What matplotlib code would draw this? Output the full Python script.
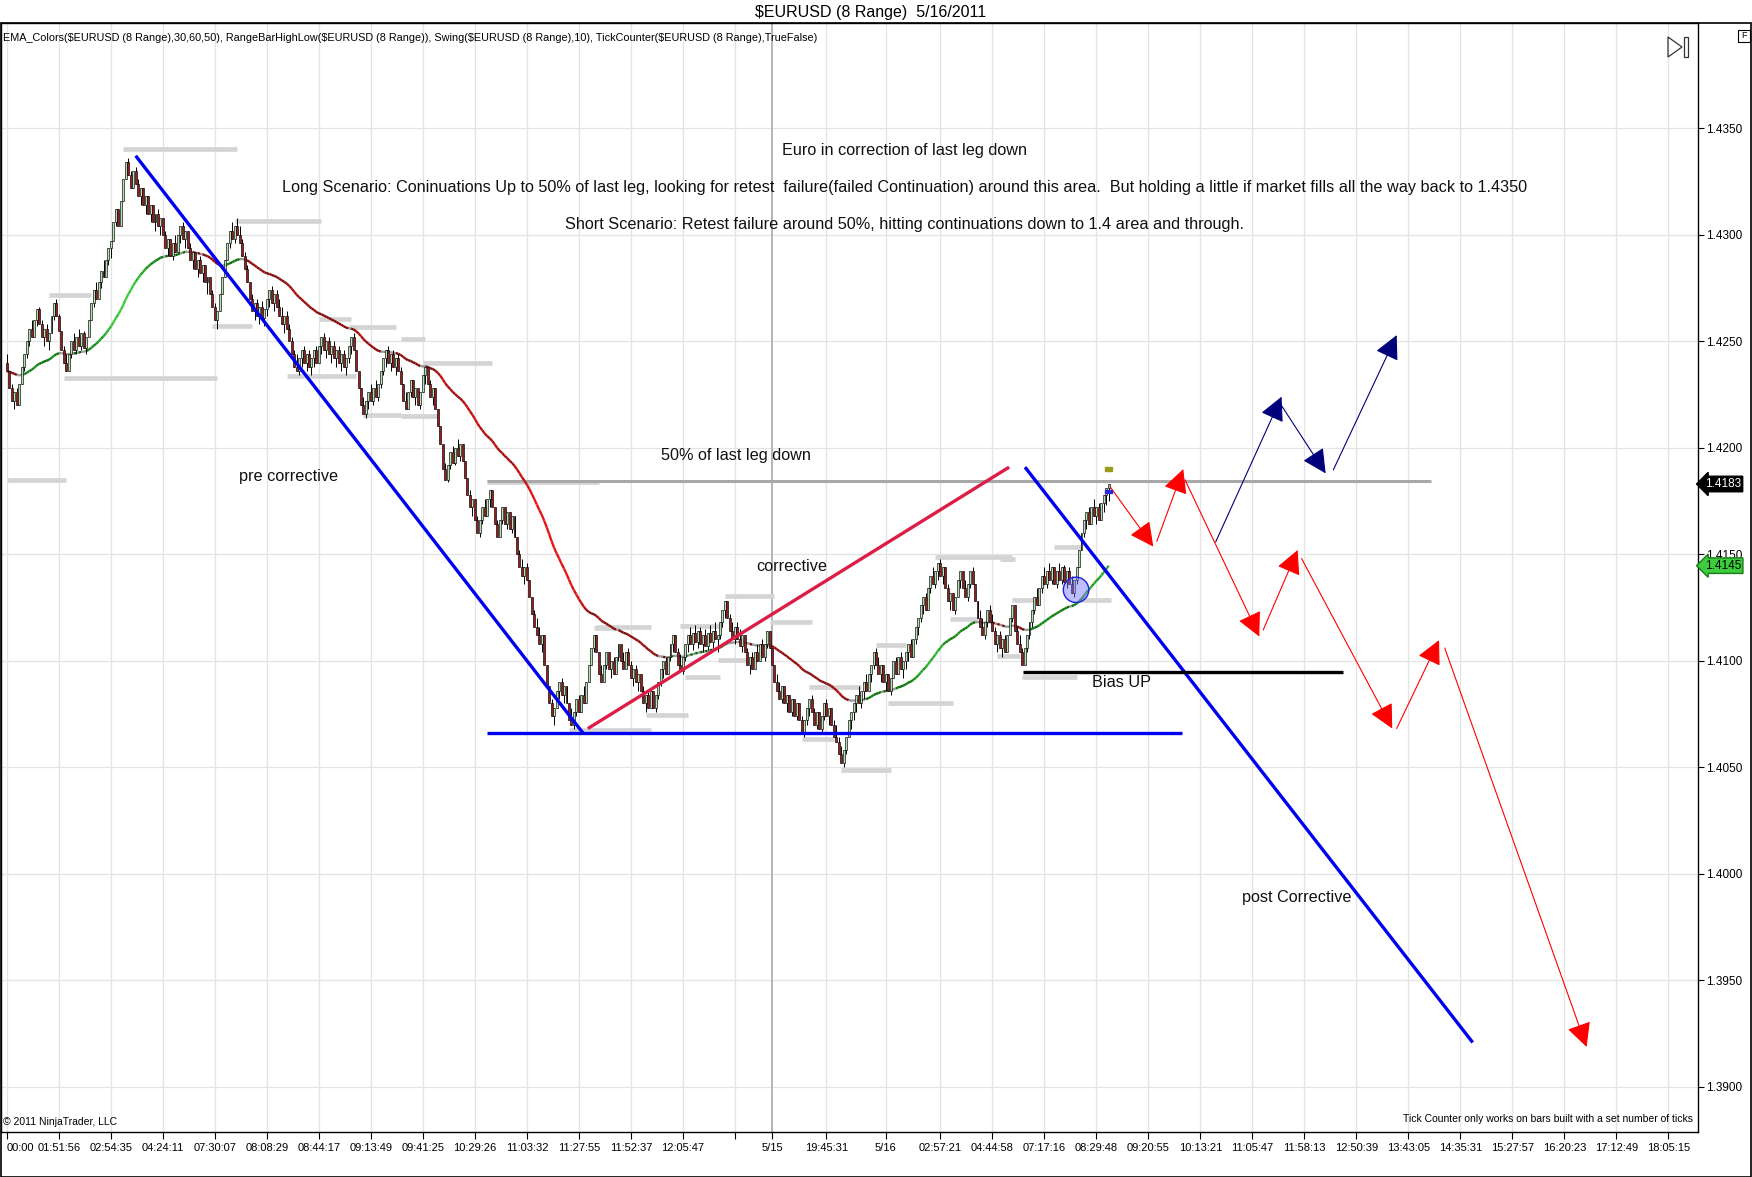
import matplotlib
matplotlib.use('Agg')
import matplotlib.pyplot as plt
import matplotlib.patches as patches
import matplotlib.transforms as mtransforms
from matplotlib.collections import LineCollection
import numpy as np
import pandas as pd

plt.rcParams['font.family'] = ['Liberation Sans', 'DejaVu Sans']

# ---- data (prices stored as pips above 1.4000) ----
BASE = 1.4
PIP = 0.0001
BAR_RANGE = 8  # "8 Range" bars

first_open = 240
close_pips = [
    236, 228, 222, 226, 220, 230, 238, 244, 250, 256, 252, 260, 265, 258, 252, 256, 250, 254, 262, 268, 262,
    255, 246, 240, 236, 244, 250, 246, 252, 248, 254, 247, 252, 260, 268, 274, 270, 278, 283, 280, 288, 294,
    297, 306, 312, 304, 316, 326, 334, 328, 322, 330, 324, 318, 322, 314, 318, 310, 314, 306, 310, 304, 308,
    300, 294, 298, 290, 296, 292, 300, 304, 298, 302, 294, 288, 292, 284, 288, 282, 286, 278, 280, 272, 266,
    260, 264, 272, 280, 288, 296, 302, 298, 304, 300, 296, 290, 284, 278, 270, 264, 268, 262, 266, 261, 265,
    270, 274, 268, 272, 266, 262, 258, 262, 256, 250, 244, 238, 236, 242, 246, 240, 244, 238, 242, 246, 240,
    248, 252, 246, 250, 244, 248, 242, 246, 240, 244, 238, 242, 248, 252, 246, 236, 228, 220, 216, 222, 226,
    222, 228, 224, 230, 236, 242, 246, 240, 244, 238, 242, 236, 230, 222, 218, 226, 232, 224, 228, 220, 226,
    234, 238, 230, 224, 228, 218, 210, 202, 190, 185, 192, 198, 193, 200, 196, 202, 194, 186, 178, 172, 176,
    166, 160, 166, 172, 168, 176, 180, 172, 164, 158, 166, 172, 164, 170, 162, 168, 158, 150, 144, 140, 144,
    138, 130, 122, 116, 112, 108, 112, 98, 88, 80, 74, 78, 86, 90, 84, 88, 80, 72, 70, 76, 82,
    76, 84, 80, 90, 98, 106, 112, 104, 94, 90, 98, 104, 96, 100, 94, 102, 108, 100, 96, 104, 98,
    92, 96, 90, 94, 86, 80, 84, 78, 86, 78, 84, 90, 96, 100, 94, 102, 108, 112, 104, 98, 95,
    102, 108, 112, 108, 113, 109, 114, 108, 112, 107, 113, 109, 114, 110, 112, 118, 124, 128, 120, 114, 110,
    116, 110, 107, 112, 104, 98, 102, 96, 104, 100, 108, 102, 108, 114, 106, 98, 90, 86, 82, 88, 80,
    84, 76, 82, 74, 80, 72, 66, 72, 78, 82, 76, 70, 76, 68, 74, 80, 74, 78, 70, 64, 62,
    56, 52, 58, 64, 72, 76, 80, 84, 80, 86, 90, 86, 94, 98, 104, 98, 94, 98, 90, 94, 86,
    92, 100, 94, 102, 96, 100, 104, 108, 102, 110, 116, 120, 126, 130, 124, 134, 140, 136, 142, 146, 140,
    144, 134, 128, 132, 124, 130, 138, 142, 134, 130, 136, 142, 136, 128, 120, 116, 112, 118, 124, 118, 114,
    108, 112, 106, 110, 104, 112, 120, 126, 114, 108, 104, 98, 106, 112, 118, 124, 130, 126, 134, 140, 136,
    142, 138, 144, 136, 142, 138, 144, 137, 142, 136, 132, 138, 144, 152, 160, 166, 170, 164, 172, 168, 172,
    166, 174, 178, 181, 183,
]

# swing high/low levels: (first bar, last bar, pips)
swing_levels = [
    (0, 24, 184.7), (47, 93, 340.2), (17, 34, 271.8), (23, 85, 233.0), (92, 127, 306.7),
    (83, 99, 257.0), (126, 139, 260.7), (138, 157, 256.5), (113, 141, 233.8), (144, 159, 215.5),
    (159, 169, 250.9), (168, 196, 240.0), (159, 174, 214.9), (194, 239, 184.0), (237, 248, 115.2),
    (238, 260, 115.7), (227, 260, 67.5), (272, 289, 116.3), (274, 288, 92.5), (258, 275, 74.5),
    (290, 310, 130.4), (287, 299, 100.6), (308, 325, 118.4), (324, 345, 87.5), (321, 334, 63.1),
    (337, 357, 48.7), (351, 363, 107.4), (356, 382, 80.3), (375, 406, 148.6), (381, 392, 119.8),
    (400, 409, 102.2), (406, 417, 128.6), (401, 407, 148.0), (410, 432, 92.6), (423, 434, 153.6),
    (433, 446, 128.6),
]

# x axis ticks (bar numbers) and their labels
tick_bars = [0, 21, 42, 63, 84, 105, 126, 147, 168, 189, 210, 231, 252, 273, 294, 309, 331, 355,
             377, 398, 419, 440, 461, 482, 503, 524, 545, 566, 587, 608, 629, 650, 671]
tick_labels = ["00:00", "01:51:56", "02:54:35", "04:24:11", "07:30:07", "08:08:29", "08:44:17",
               "09:13:49", "09:41:25", "10:29:26", "11:03:32", "11:27:55", "11:52:37", "12:05:47", "",
               "5/15", "19:45:31", "5/16", "02:57:21", "04:44:58", "07:17:16", "08:29:48", "09:20:55",
               "10:13:21", "11:05:47", "11:58:13", "12:50:39", "13:43:05", "14:35:31", "15:27:57",
               "16:20:23", "17:12:49", "18:05:15"]
session_bar = 309
price_ticks = [1.3900, 1.3950, 1.4000, 1.4050, 1.4100, 1.4150, 1.4200, 1.4250, 1.4300, 1.4350]

# drawn annotations (bar, pips)
blue_lines = [(52.0, 337.1, 232.7, 66.0), (411.2, 190.9, 592.0, -79.2), (194.0, 66.0, 474.6, 66.0)]
crimson_line = (235.2, 68.6, 404.2, 190.5)
half_level = (194.0, 575.0, 184.3)
bias_level = (410.3, 539.7, 94.9)
red_arrows = [(445.5, 181.8, 463.0, 153.6), (464.4, 156.0, 475.1, 190.0), (475.8, 185.0, 505.8, 111.4),
              (507.4, 114.5, 521.3, 152.0), (522.9, 148.0, 559.5, 68.2), (561.3, 68.2, 578.4, 109.7),
              (580.7, 106.0, 638.0, -81.3)]
navy_arrows = [(488.2, 155.8, 514.8, 224.0), (513.9, 221.4, 532.6, 188.0), (535.7, 189.6, 561.3, 252.9)]
circle_mark = (431.8, 133.3)
notes = [
    ("Euro in correction of last leg down", 362.7, 339.5),
    ("Long Scenario: Coninuations Up to 50% of last leg, looking for retest  failure(failed Continuation) "
     "around this area.  But holding a little if market fills all the way back to 1.4350", 362.7, 322.1),
    ("Short Scenario: Retest failure around 50%, hitting continuations down to 1.4 area and through.", 362.7, 304.8),
    ("50% of last leg down", 294.6, 196.2),
    ("pre corrective", 113.6, 186.3),
    ("corrective", 317.1, 144.3),
    ("Bias UP", 450.3, 89.7),
    ("post Corrective", 521.1, -11.0),
]


def px(p):
    return BASE + np.asarray(p, dtype=float) * PIP


closes = px(close_pips)
n = len(closes)
x = np.arange(n)
opens = np.r_[px(first_open), closes[:-1]]
up = closes > opens
rng = BAR_RANGE * PIP
highs = np.where(up, np.maximum(closes, opens), np.maximum(opens, closes + rng))
lows = np.where(up, np.minimum(opens, closes - rng), np.minimum(opens, closes))

ema = pd.Series(closes).ewm(span=50, adjust=False).mean().values

# ---- figure ----
W, H = 1752, 1177
fig = plt.figure(figsize=(W / 100, H / 100), dpi=100)
ax_top, ax_bot, ax_right = 23.3, 1131.7, 1698
ax = fig.add_axes([1 / W, 1 - ax_bot / H, (ax_right - 1) / W, (ax_bot - ax_top) / H])

ax.set_xlim(-2.4, 683)
ax.set_ylim(1.38789, 1.43993)

# grid
for t in price_ticks:
    ax.axhline(t, color='#e4e4e4', lw=0.9, zorder=0)
for b in tick_bars:
    if b == session_bar:
        ax.axvline(b, color='#b0b0b0', lw=1.3, zorder=0)
    else:
        ax.axvline(b, color='#e4e4e4', lw=0.9, zorder=0)

# swing levels
for s, e, p in swing_levels:
    ax.hlines(px(p), s, e, color='#d4d4d4', lw=3.4, zorder=1)

# 50% level
ax.hlines(px(half_level[2]), half_level[0], half_level[1], color='#a8a8a8', lw=2.2, zorder=2)

# EMA with slope colouring
ema_p = ema / PIP
slope = np.diff(ema_p)
cols = []
for s in slope:
    if s > 0.3:
        k = min(1.0, (s - 0.3) / 1.7)
        cols.append((0.0 + 0.25 * k, 0.40 + 0.40 * k, 0.0 + 0.25 * k))
    elif s < -0.3:
        k = min(1.0, (-s - 0.3) / 2.2)
        cols.append((0.45 + 0.47 * k, 0.04 + 0.04 * k, 0.04 + 0.04 * k))
    else:
        cols.append((0.58, 0.58, 0.58))
segs = np.stack([np.c_[x[:-1], ema[:-1]], np.c_[x[1:], ema[1:]]], axis=1)
ax.add_collection(LineCollection(segs, colors=cols, linewidths=1.7, zorder=3))

# candles
ax.vlines(x, lows, highs, color='black', lw=0.7, zorder=4)
body_bottom = np.minimum(opens, closes)
body_h = np.maximum(np.abs(closes - opens), 0.6 * PIP)
ax.bar(x, body_h, bottom=body_bottom, width=0.8,
       color=np.where(up, '#b9dfb9', '#9c1c1c'), edgecolor='black', linewidth=0.45, zorder=5)

# drawn lines
for x0, y0, x1, y1 in blue_lines:
    ax.plot([x0, x1], [px(y0), px(y1)], color='#0000f0', lw=2.4, zorder=6, solid_capstyle='butt')
cx0, cy0, cx1, cy1 = crimson_line
ax.plot([cx0, cx1], [px(cy0), px(cy1)], color='#dc1e46', lw=2.4, zorder=6)
ax.hlines(px(bias_level[2]), bias_level[0], bias_level[1], color='black', lw=2.4, zorder=6)

for x0, y0, x1, y1 in red_arrows:
    ax.annotate('', xy=(x1, px(y1)), xytext=(x0, px(y0)), zorder=7,
                arrowprops=dict(arrowstyle='-|>,head_length=0.75,head_width=0.38', color='#ff0000',
                                lw=0.8, mutation_scale=20, shrinkA=0, shrinkB=0))
for x0, y0, x1, y1 in navy_arrows:
    ax.annotate('', xy=(x1, px(y1)), xytext=(x0, px(y0)), zorder=7,
                arrowprops=dict(arrowstyle='-|>,head_length=0.75,head_width=0.38', color='#00007a',
                                lw=0.8, mutation_scale=20, shrinkA=0, shrinkB=0))

ax.add_patch(patches.Ellipse((circle_mark[0], px(circle_mark[1])), 10.3, 11.9 * PIP,
                             facecolor=(0.45, 0.45, 1.0, 0.45), edgecolor='#2020e0', lw=1.0, zorder=7))
ax.add_patch(patches.Rectangle((443.5, px(189.3)), 2.7, 1.6 * PIP, color='#9a9a1e', zorder=7))
ax.add_patch(patches.Rectangle((443.5, px(178.7)), 2.7, 1.5 * PIP, color='#2a2ad8', zorder=7))

for txt, bx, bp in notes:
    ax.text(bx, px(bp), txt, ha='center', va='center', fontsize=11.7, color='#111111', zorder=8)

# axes styling
ax.set_xticks(tick_bars)
ax.set_xticklabels(tick_labels)
ax.tick_params(axis='x', length=5, labelsize=8, pad=3, color='black')
ax.get_xticklabels()[0].set_ha('left')
ax.set_yticks(price_ticks)
ax.set_yticklabels(['%.4f' % t for t in price_ticks])
ax.yaxis.tick_right()
ax.tick_params(axis='y', length=4, labelsize=8.5, pad=2)
for sp in ax.spines.values():
    sp.set_linewidth(1.0)

# price markers on the right scale
bt = mtransforms.blended_transform_factory(ax.transAxes, ax.transData)
ax.text(1.004, closes[-1], '%.4f' % closes[-1], transform=bt, ha='left', va='center', fontsize=8.5,
        color='white', zorder=10, clip_on=False,
        bbox=dict(boxstyle='larrow,pad=0.15', fc='black', ec='black'))
ax.text(1.004, ema[-1], '%.4f' % ema[-1], transform=bt, ha='left', va='center', fontsize=8.5,
        color='black', zorder=10, clip_on=False,
        bbox=dict(boxstyle='larrow,pad=0.15', fc='#3ccd3c', ec='#1a7a1a'))

# texts in the panel
ax.text(0.0014, 0.9867, "EMA_Colors($EURUSD (8 Range),30,60,50), RangeBarHighLow($EURUSD (8 Range)), "
        "Swing($EURUSD (8 Range),10), TickCounter($EURUSD (8 Range),TrueFalse)",
        transform=ax.transAxes, ha='left', va='center', fontsize=7.8, parse_math=False)
ax.text(0.0014, 0.004, "\u00a9 2011 NinjaTrader, LLC", transform=ax.transAxes, ha='left', va='bottom',
        fontsize=7.5)
ax.text(0.9969, 0.0115, "Tick Counter only works on bars built with a set number of ticks",
        transform=ax.transAxes, ha='right', va='center', fontsize=7.5)

fig.text(871 / W, 1 - 13 / H, "$EURUSD (8 Range)  5/16/2011", ha='center', va='center', fontsize=11.5,
         parse_math=False)

# outer frame and small widgets
fig.add_artist(patches.Rectangle((0.0004, 0.0004), 0.9992, 1 - ax_top / H - 0.0004,
                                 transform=fig.transFigure, fill=False, ec='black', lw=1.2))
fig.add_artist(patches.Polygon([(1668 / W, 1 - 37 / H), (1668 / W, 1 - 57 / H), (1682 / W, 1 - 47 / H)],
                               closed=True, transform=fig.transFigure, fill=False, ec='#333333', lw=0.9))
fig.add_artist(patches.Rectangle((1684 / W, 1 - 57 / H), 4 / W, 20 / H, transform=fig.transFigure,
                                 fill=False, ec='#333333', lw=0.9))
fig.add_artist(patches.Rectangle((1738 / W, 1 - 42 / H), 12 / W, 12 / H, transform=fig.transFigure,
                                 fc='white', ec='black', lw=0.8))
fig.text(1744 / W, 1 - 36 / H, 'F', ha='center', va='center', fontsize=6.5)

fig.savefig('out.png', dpi=100)
